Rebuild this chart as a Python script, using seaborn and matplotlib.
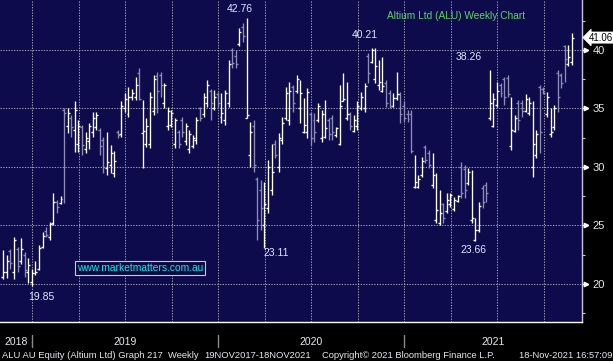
import numpy as np
import pandas as pd
import matplotlib
matplotlib.use("Agg")
import matplotlib.pyplot as plt
import seaborn as sns
from matplotlib.transforms import blended_transform_factory

# ---------------- data (weekly OHLC, ALU AU) ----------------
opens = [20.6, 21.0, 22.8, 21.0, 23.0, 22.0, 22.5, 21.0, 20.2, 20.9,
         21.3, 23.2, 24.5, 24.0, 25.2, 27.0, 26.9, 34.9, 33.5, 34.2,
         33.2, 32.0, 33.4, 31.5, 32.2, 33.0, 33.4, 33.2, 32.3, 29.9,
         30.2, 29.5, 33.0, 32.8, 35.0, 34.5, 36.0, 36.0, 38.0, 32.9,
         32.0, 32.0, 34.8, 37.8, 37.9, 35.5, 33.5, 33.6, 32.0, 33.0,
         34.0, 32.2, 31.5, 31.8, 32.3, 35.0, 34.5, 35.5, 36.5, 35.0,
         36.2, 34.3, 34.0, 35.5, 40.0, 39.5, 40.5, 42.0, 34.2, 31.0,
         33.5, 29.0, 28.0, 25.0, 26.5, 28.0, 32.0, 30.0, 32.3, 34.2,
         34.0, 36.8, 36.5, 35.0, 33.0, 33.0, 34.5, 34.0, 34.0, 32.5,
         32.6, 34.0, 34.2, 32.7, 32.0, 35.6, 34.2, 34.5, 33.1, 33.5,
         35.0, 35.0, 39.5, 39.0, 37.5, 37.0, 36.5, 37.2, 36.3, 35.2,
         35.9, 36.2, 35.2, 34.5, 34.5, 28.3, 28.3, 29.3, 31.7, 31.2,
         28.5, 25.5, 25.2, 26.8, 26.2, 26.8, 26.4, 27.1, 30.0, 29.8,
         28.6, 25.5, 23.8, 24.6, 28.2, 28.5, 34.2, 33.5, 35.3, 37.0,
         37.5, 37.6, 31.8, 33.1, 35.5, 35.5, 34.8, 34.6, 30.0, 31.0,
         36.8, 36.7, 34.5, 32.8, 33.4, 38.0, 37.9, 40.3, 38.8, 39.0]
highs = [22.9, 22.5, 23.0, 24.0, 23.2, 23.9, 22.7, 22.2, 21.3, 22.0,
         23.3, 24.4, 24.9, 25.3, 27.8, 27.2, 27.5, 35.0, 35.0, 34.4,
         35.6, 34.0, 33.6, 33.0, 33.8, 34.7, 34.7, 33.3, 32.6, 33.0,
         31.9, 31.4, 33.2, 35.6, 36.3, 36.8, 36.7, 37.7, 38.5, 35.7,
         34.2, 36.4, 37.9, 38.1, 38.1, 37.2, 35.1, 34.9, 34.2, 33.2,
         34.3, 33.8, 33.2, 32.7, 34.3, 35.1, 36.3, 37.4, 36.7, 36.6,
         36.4, 36.3, 36.6, 39.1, 40.2, 40.0, 41.9, 42.3, 42.76, 33.85,
         34.0, 29.1, 28.9, 28.7, 30.6, 32.0, 32.3, 32.9, 34.3, 36.8,
         37.3, 37.0, 37.9, 37.4, 35.9, 36.75, 34.7, 34.6, 35.5, 34.9,
         35.7, 34.2, 34.4, 33.4, 37.0, 38.0, 37.3, 34.7, 34.4, 35.6,
         36.4, 37.2, 39.7, 40.21, 40.2, 39.1, 39.4, 37.4, 36.6, 36.3,
         38.1, 36.4, 35.6, 34.9, 34.9, 31.0, 29.3, 30.85, 31.9, 31.45,
         31.2, 29.5, 28.0, 26.9, 27.8, 27.8, 27.4, 27.6, 30.4, 30.2,
         29.9, 29.7, 25.6, 27.0, 28.5, 28.7, 38.26, 36.3, 37.3, 37.2,
         37.7, 37.9, 36.0, 34.4, 35.7, 35.7, 36.2, 36.0, 35.6, 33.2,
         37.0, 36.8, 36.4, 35.0, 35.3, 38.3, 38.0, 40.4, 40.4, 41.45]
lows = [20.4, 20.5, 21.3, 20.4, 21.0, 21.7, 20.6, 20.1, 19.85, 20.8,
        21.2, 23.1, 24.0, 23.8, 25.0, 26.1, 26.8, 26.9, 32.9, 32.6,
        31.3, 31.3, 31.0, 31.2, 31.5, 32.6, 33.2, 31.0, 29.5, 29.3,
        29.5, 29.1, 32.5, 32.6, 34.7, 34.3, 35.7, 35.7, 35.7, 29.9,
        31.7, 31.6, 34.4, 34.6, 36.0, 35.0, 33.2, 33.4, 31.6, 31.6,
        32.6, 31.9, 31.2, 31.6, 32.0, 33.9, 34.3, 35.1, 34.0, 34.9,
        35.1, 33.8, 33.6, 35.1, 38.5, 38.5, 40.3, 40.7, 34.2, 30.0,
        29.6, 23.8, 24.6, 23.11, 26.1, 27.6, 30.8, 29.6, 32.0, 34.0,
        33.6, 34.7, 36.3, 33.8, 32.9, 32.5, 31.9, 32.1, 33.85, 32.1,
        32.5, 32.3, 32.3, 32.6, 31.9, 35.6, 34.0, 33.2, 33.0, 33.2,
        34.9, 34.7, 37.2, 38.9, 37.2, 36.6, 36.4, 35.1, 35.0, 35.1,
        35.7, 33.8, 33.85, 33.85, 31.2, 28.2, 28.2, 29.15, 30.3, 29.9,
        28.2, 25.2, 25.0, 25.2, 26.1, 26.6, 26.2, 27.0, 27.35, 27.35,
        28.5, 25.2, 23.66, 24.4, 26.5, 27.0, 34.0, 33.4, 35.1, 36.0,
        35.3, 36.0, 31.45, 33.0, 33.2, 34.3, 34.7, 34.4, 29.1, 30.8,
        31.2, 36.2, 34.3, 32.6, 33.2, 34.7, 36.75, 37.3, 38.6, 38.7]
closes = [21.0, 22.0, 21.8, 23.8, 21.5, 23.0, 21.2, 21.6, 20.9, 21.0,
          23.1, 24.1, 24.2, 25.1, 27.0, 26.6, 27.3, 34.6, 34.6, 33.4,
          34.9, 33.5, 31.9, 32.5, 33.5, 34.2, 34.4, 31.8, 30.0, 30.4,
          31.2, 30.5, 32.7, 35.2, 35.8, 36.0, 36.3, 37.0, 35.8, 33.1,
          33.5, 36.0, 37.5, 36.5, 37.0, 37.0, 34.8, 34.6, 34.0, 32.0,
          33.0, 33.5, 32.8, 32.5, 34.0, 34.2, 36.0, 37.0, 35.5, 36.0,
          35.5, 34.6, 36.3, 38.8, 38.9, 38.8, 41.5, 41.2, 34.4, 33.0,
          30.2, 25.5, 26.5, 26.8, 30.0, 29.6, 31.0, 32.5, 33.8, 36.3,
          36.5, 35.5, 37.5, 36.3, 33.6, 36.4, 32.5, 33.0, 35.2, 34.5,
          33.3, 32.8, 33.0, 33.3, 35.2, 35.8, 34.5, 33.5, 34.0, 35.2,
          36.0, 36.9, 38.0, 40.0, 38.6, 37.3, 36.9, 35.5, 35.2, 35.9,
          36.2, 34.5, 34.2, 34.1, 31.4, 28.7, 29.0, 30.5, 30.6, 30.2,
          29.3, 26.3, 26.1, 25.6, 27.2, 27.6, 27.2, 27.5, 27.8, 28.0,
          29.6, 25.6, 24.6, 26.7, 27.0, 27.8, 35.5, 35.8, 36.5, 36.3,
          36.0, 36.2, 33.2, 34.2, 34.0, 34.8, 35.8, 35.5, 32.0, 32.8,
          33.0, 36.3, 36.0, 33.0, 35.0, 36.0, 37.2, 39.2, 39.4, 41.06]

years = ["2018", "2019", "2020", "2021"]
y_ticks = [20, 25, 30, 35, 40]
y_minor = [17.5, 22.5, 27.5, 32.5, 37.5, 42.5]
marked = [(68, "high"), (103, "high"), (136, "high"), (73, "low"), (132, "low"), (8, "low")]
last_price = closes[-1]

df = pd.DataFrame({"open": opens, "high": highs, "low": lows, "close": closes})
df["week"] = np.arange(len(df))
df["up"] = df["close"] >= df["open"]

# ---------------- style ----------------
sns.set_theme(style="dark")
plt.rcParams["font.family"] = ["Liberation Sans", "DejaVu Sans"]

BG = "#0e0b4d"
WHITE = "#ffffff"
GREY = "#8d8db8"
GRID = "#9a9aa8"
TXT = "#e8e8f0"

W, H = 613, 361
fig = plt.figure(figsize=(W / 100, H / 100), dpi=100, facecolor="black")
ax_left, ax_right, ax_top, ax_bot = 0, 582, 0, 322
ax = fig.add_axes([ax_left / W, 1 - ax_bot / H, (ax_right - ax_left) / W, (ax_bot - ax_top) / H])
ax.set_facecolor(BG)

px_per_week = 3.577
x0_px = 3.3
ax.set_xlim(-x0_px / px_per_week, (ax_right - x0_px) / px_per_week)
ax.set_ylim(16.75, 44.27)

# grid
q0 = (32 - x0_px) / px_per_week
xmax = ax.get_xlim()[1]
quarters = [q0 + 13 * k for k in range(12)]
for q in quarters:
    ax.axvline(q, color=GRID, lw=0.75, ls=(0, (1.3, 1.3)), zorder=1)
for yv in y_ticks:
    ax.axhline(yv, color=GRID, lw=0.75, ls=(0, (1.3, 1.3)), zorder=1)

# OHLC bars
col = np.where(df["up"], WHITE, GREY)
ax.vlines(df["week"], df["low"], df["high"], colors=col, lw=0.95, zorder=3)
ax.hlines(df["open"], df["week"] - 0.55, df["week"], colors=col, lw=0.95, zorder=3)
ax.hlines(df["close"], df["week"], df["week"] + 0.55, colors=col, lw=0.95, zorder=3)

# spines
for s in ["top", "left"]:
    ax.spines[s].set_visible(False)
ax.spines["bottom"].set_color("white")
ax.spines["bottom"].set_linewidth(1.0)
ax.spines["right"].set_color("#c8c8d8")
ax.spines["right"].set_linewidth(1.0)

# y axis on right
ax.yaxis.tick_right()
ax.set_yticks(y_ticks)
ax.set_yticklabels([str(v) for v in y_ticks])
ax.set_yticks(y_minor, minor=True)
ax.tick_params(axis="y", which="major", direction="out", length=3.5, width=0.8,
               color="white", labelcolor=TXT, labelsize=8, pad=4)
ax.tick_params(axis="y", which="minor", direction="out", length=2.2, width=0.8, color="#c8c8d8")
tr_ay = blended_transform_factory(ax.transAxes, ax.transData)
ax.plot([1 + 4.2 / 582] * len(y_ticks), y_ticks, ls="none", marker=">", ms=3.2,
        color="white", transform=tr_ay, clip_on=False, zorder=5)

# x axis: monthly ticks
months = [q0 + 13 / 3 * k for k in range(-2, 36) if q0 + 13 / 3 * k <= xmax]
ax.set_xticks(months)
ax.set_xticklabels([])
ax.tick_params(axis="x", which="major", direction="out", length=2.5, width=0.8, color="white")
ax.grid(False)

# year labels and separators
tr_xf = blended_transform_factory(ax.transData, fig.transFigure)
year_starts = [q0 + 52 * k for k in range(3)]
bounds = [ax.get_xlim()[0]] + year_starts + [xmax]
for i, yr in enumerate(years):
    xm = (bounds[i] + bounds[i + 1]) / 2
    ax.text(xm, 1 - 342 / H, yr, transform=tr_xf, ha="center", va="center",
            color=TXT, fontsize=7.5, clip_on=False)
for ys in year_starts:
    ax.plot([ys, ys], [1 - 335 / H, 1 - 347 / H], transform=tr_xf, color="#8a8a8a",
            lw=1.0, clip_on=False)

# value annotations
offsets = {68: (-6.5, 8.7), 103: (-6.7, 12.5), 136: (-21, 13), 73: (11.6, -5.4),
           132: (-2.5, -9), 8: (9, -11)}
for idx, kind in marked:
    val = df["high"][idx] if kind == "high" else df["low"][idx]
    dx, dy = offsets[idx]
    ax.annotate(f"{val:.2f}", (idx, val), xytext=(dx * 0.72, dy * 0.72),
                textcoords="offset points", ha="center", va="center",
                color="#dde6ff", fontsize=7.5, zorder=6)

# last price tag
ax.text(1 + 6.5 / 582, last_price, f"{last_price:.2f}", transform=tr_ay, ha="left", va="center",
        color="black", fontsize=7.0, clip_on=False, zorder=7,
        bbox=dict(boxstyle="larrow,pad=0.06", fc="white", ec="white", lw=0.5))

# title
fig.text(456 / W, 1 - 16 / H, "Altium Ltd (ALU) Weekly Chart", ha="center", va="center",
         color="#5fd35f", fontsize=7.3)

# watermark
fig.text(140 / W, 1 - 268 / H, "www.marketmatters.com.au", ha="center", va="center",
         color="#19e3f5", fontsize=7.4,
         bbox=dict(boxstyle="square,pad=0.18", fc="#0b0a3c", ec="#c8c8d0", lw=0.8))

# footer
foot_y = 1 - 355 / H
FS = 6.75
fig.text(2 / W, foot_y, "ALU AU Equity (Altium Ltd) Graph 217  Weekly", ha="left", va="center",
         color=TXT, fontsize=FS)
fig.text(204 / W, foot_y, "19NOV2017-18NOV2021", ha="left", va="center", color=TXT, fontsize=FS)
fig.text(322 / W, foot_y, "Copyright\u00a9 2021 Bloomberg Finance L.P.", ha="left", va="center",
         color=TXT, fontsize=FS)
fig.text(612 / W, foot_y, "18-Nov-2021 16:57:09", ha="right", va="center", color=TXT, fontsize=FS)

fig.savefig("out.png", dpi=100, facecolor="black")
